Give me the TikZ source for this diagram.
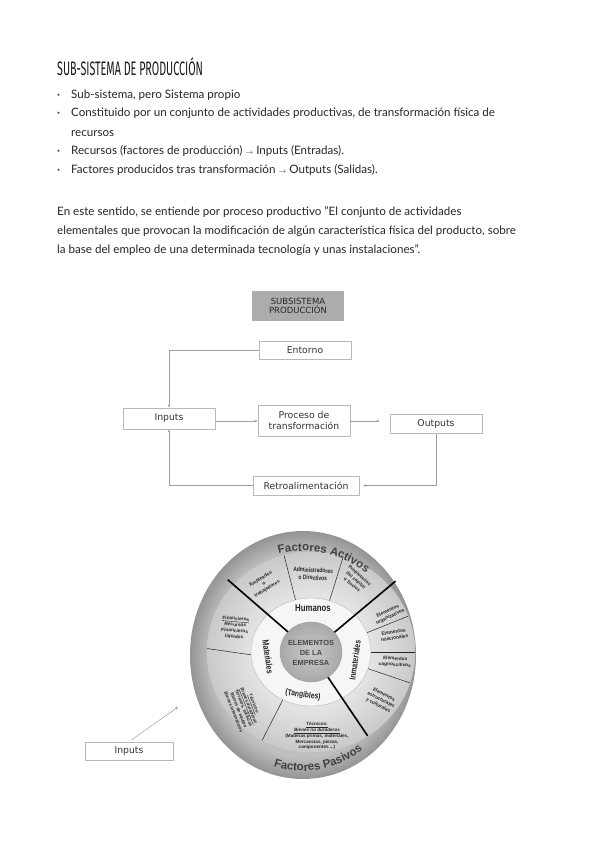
\documentclass[tikz,border=0pt]{standalone}
\usepackage{fontspec}
\setmainfont{Lato}
\newfontfamily\flowfont{DejaVu Sans}
\newfontfamily\circfont{Liberation Sans}
\newfontfamily\circnarrow[FakeStretch=0.78]{Liberation Sans}
\newfontfamily\titlefont[FakeStretch=0.55]{Fira Sans}
\usetikzlibrary{arrows.meta,calc,decorations.text,shadows}

\pgfdeclareradialshading{bandshade}{\pgfpoint{0bp}{0bp}}{color(0bp)=(gray!48); color(20.5bp)=(gray!50); color(25bp)=(gray!84); color(50bp)=(gray!84)}
\pgfdeclareradialshading{segshade}{\pgfpoint{0bp}{0bp}}{color(0bp)=(gray!22); color(14.5bp)=(gray!22); color(25bp)=(gray!42); color(50bp)=(gray!42)}
\pgfdeclareradialshading{censhade}{\pgfpoint{0bp}{0bp}}{color(0bp)=(gray!42); color(25bp)=(gray!68); color(50bp)=(gray!68)}

\begin{document}
\begin{tikzpicture}[x=1pt,y=-1pt,
  body/.style={anchor=base west, inner sep=0, font=\fontsize{11.6}{13}\selectfont, text=black!85},
  bul/.style={anchor=base west, inner sep=0, font=\fontsize{11}{13}\selectfont\bfseries, text=black!70},
  flowbox/.style={draw=gray!55, line width=0.6pt, fill=white, font=\flowfont\fontsize{9.3}{11}\selectfont,
     text=black!80, inner sep=0, minimum width=92pt, align=center,
     drop shadow={shadow xshift=0.8pt, shadow yshift=-0.8pt, opacity=0.25}},
  conn/.style={draw=gray!75, line width=0.5pt, -{Stealth[length=3.2pt,width=2.6pt]}},
  ctext/.style={font=\circfont\bfseries\fontsize{4.8}{6}\selectfont, align=center, inner sep=0, text=black!85},
  ntext/.style={font=\circnarrow\bfseries\fontsize{6.4}{7.6}\selectfont, align=center, inner sep=0, text=black!85},
  thindiv/.style={draw=black!85, line width=0.5pt},
  thickdiv/.style={draw=black, line width=1.6pt},
]
\fill[white] (0,0) rectangle (599,848);
\useasboundingbox (0,0) rectangle (599,848);

% ---------- header text ----------
\node[anchor=base west, inner sep=0, text=black!90] (title) at (57,76)
  {\titlefont\fontsize{19.5}{19.5}\selectfont SUB-SISTEMA DE PRODUCCIÓN};

\node[bul] (b1) at (57,99) {·};
\node[body] (t1) at (71,99) {Sub-sistema, pero Sistema propio};
\node[bul] (b2) at (57,117) {·};
\node[body] (t2) at (71,117) {Constituido por un conjunto de actividades productivas, de transformación física de};
\node[body] (t3) at (71,136) {recursos};
\node[bul] (b3) at (57,154) {·};
\node[body] (t4) at (71,154) {Recursos (factores de producción) {\scriptsize$\rightarrow$} Inputs (Entradas).};
\node[bul] (b4) at (57,173) {·};
\node[body] (t5) at (71,173) {Factores producidos tras transformación {\scriptsize$\rightarrow$} Outputs (Salidas).};

\node[body] (p1) at (57,215) {En este sentido, se entiende por proceso productivo "El conjunto de actividades};
\node[body] (p2) at (57,234) {elementales que provocan la modificación de algún característica física del producto, sobre};
\node[body] (p3) at (57,253) {la base del empleo de una determinada tecnología y unas instalaciones".};

% ---------- flow chart ----------
\node[fill=gray!65, minimum width=92pt, minimum height=30pt, inner sep=0, align=center,
      font=\flowfont\fontsize{8.5}{9.6}\selectfont, text=black!85] (sub) at (298,306) {SUBSISTEMA\\PRODUCCIÓN};
\node[flowbox, minimum height=18pt] (entorno) at (305,350) {Entorno};
\node[flowbox, minimum height=21pt] (inputs) at (169,418.5) {Inputs};
\node[flowbox, minimum height=31pt] (proceso) at (304,421) {Proceso de\\transformación};
\node[flowbox, minimum height=19pt] (outputs) at (436,424) {Outputs};
\node[flowbox, minimum width=106pt, minimum height=19pt] (retro) at (306,485.5) {Retroalimentación};

\draw[conn] (entorno.west) -| (inputs.north);
\draw[conn] (proceso.west -| inputs.east) -- (proceso.west);
\draw[conn, shorten >=10pt] (proceso.east) -- (proceso.east -| outputs.west);
\draw[conn, shorten >=4pt] (outputs.south) |- (retro.east);
\draw[conn] (retro.west) -| (inputs.south);

% ---------- circle diagram ----------
\begin{scope}[shift={(311,652)}, y=1pt]
  \shade[shading=bandshade] (-8,-3) ellipse [x radius=113, y radius=124];
  \shade[shading=segshade] (0,0) ellipse [x radius=104, y radius=100];
  \draw[gray!40, line width=0.4pt] (0,0) ellipse [x radius=104, y radius=100];
  \fill[gray!7] (0,0) ellipse [x radius=60, y radius=54];
  \draw[gray!55, line width=0.4pt] (0,0) ellipse [x radius=60, y radius=54];
  \shade[shading=censhade] (0,0) ellipse [x radius=31, y radius=30];
  \draw[gray!75, line width=0.4pt] (0,0) ellipse [x radius=31, y radius=30];

  \foreach \a in {105,72,21,0,-18,242}
    \draw[thindiv] (\a:60 and 54) -- (\a:104 and 100);
  \draw[thindiv] (183:60 and 54) -- (178:104 and 100);
  \draw[thickdiv] (138:31 and 30) -- (138:112 and 108);
  \draw[thickdiv] (41:31 and 30) -- (41:112 and 108);
  \draw[thickdiv] (-57:31 and 30) -- (-57:104 and 100);

  % outer band texts
  \path[decorate, decoration={text along path, text align=center,
     text={|\circfont\bfseries\fontsize{11.5}{11.5}\selectfont\color{black!75}|Factores Activos}}]
     (-8,-3) ++(132:103 and 104) arc[start angle=132, end angle=24, x radius=103, y radius=104];
  \path[decorate, decoration={text along path, text align=center,
     text={|\circfont\bfseries\fontsize{11.5}{11.5}\selectfont\color{black!75}|Factores Pasivos}}]
     (-8,-3) ++(232:104 and 116) arc[start angle=232, end angle=326, x radius=104, y radius=116];

  % segment texts
  \node[ctext, rotate=32] (emp) at (-47,68) {Empleados\\o\\trabajadores};
  \node[ntext, rotate=-3] (adm) at (2,78) {Administradores\\o Directivos};
  \node[ctext, rotate=-40] (prop) at (45,72) {Propietarios\\del capital\\o Socios};
  \node[ctext, rotate=-5] (fin) at (-76,24) {\underline{Financieros}\\Recursos\\Financieros\\líquidos};
  \node[ctext, rotate=-68, font=\circfont\bfseries\fontsize{4.5}{5.5}\selectfont] (tecd) at (-67,-56) {\underline{Técnicos:}\\\underline{\itshape Bienes duraderos}\\Terrenos, edificios\\Bienes de equipo\\Bienes informáticos};
  \node[ctext, font=\circfont\bfseries\fontsize{4.6}{5.8}\selectfont] (tecn) at (6,-84) {\underline{Técnicos:}\\\underline{\itshape Bienes no duraderos}\\(Materias primas, materiales,\\Mercancías, piezas,\\componentes ...)};
  \node[ctext, rotate=25] (org) at (78,38) {Elementos\\organizativos};
  \node[ctext, rotate=9] (rel) at (83,17) {Elementos\\relacionales};
  \node[ctext, rotate=-4] (cog) at (84,-10) {Elementos\\cognoscitivos};
  \node[ctext, rotate=-28] (est) at (70,-48) {Elementos\\estructurales\\y culturales};

  % ring texts
  \node[font=\circnarrow\bfseries\fontsize{10}{10}\selectfont, inner sep=0, text=black!85] (hum) at (2,44) {Humanos};
  \node[font=\circnarrow\bfseries\fontsize{9}{9}\selectfont, inner sep=0, text=black!85, rotate=-82] (mat) at (-43,-5) {Materiales};
  \node[font=\circnarrow\bfseries\fontsize{8.8}{9}\selectfont, inner sep=0, text=black!85, rotate=82] (inm) at (44,-8) {Inmateriales};
  \node[font=\circnarrow\bfseries\fontsize{8.6}{9}\selectfont, inner sep=0, text=black!85, rotate=-8] (tan) at (-8,-43) {(Tangibles)};
  \node[font=\circfont\bfseries\fontsize{7.4}{9.6}\selectfont, inner sep=0, align=center, text=black!72] (elem) at (0,-1) {ELEMENTOS\\DE LA\\EMPRESA};
\end{scope}

% ---------- bottom inputs ----------
\node[flowbox, minimum width=88pt, minimum height=18pt] (inputsb) at (129,751) {Inputs};
\coordinate (cin) at (178,707);
\draw[conn, shorten <=3pt] (inputsb.north) -- (cin);

\end{tikzpicture}
\end{document}
